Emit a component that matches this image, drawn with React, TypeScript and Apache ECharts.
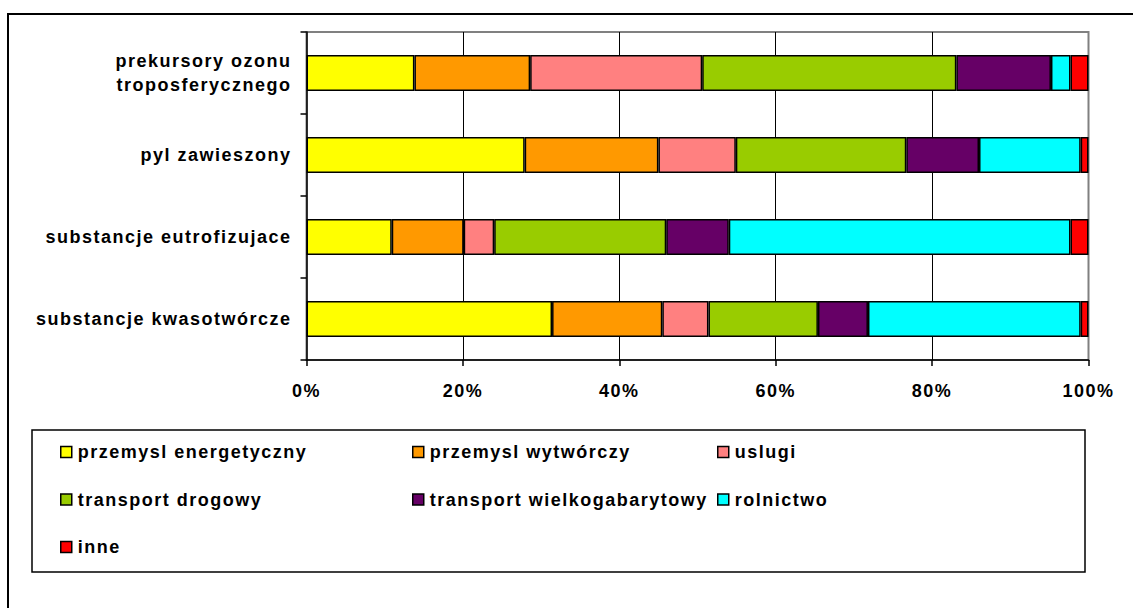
import React, { useEffect, useRef } from "react";
import * as echarts from "echarts";

// Emission categories, listed bottom-to-top as the category axis draws them
const categories = [
  "substancje kwasotwórcze",
  "substancje eutrofizujace",
  "pyl zawieszony",
  "prekursory ozonu\ntroposferycznego",
];

// Share of each source sector (%) per category, same order as categories
const przemyslEnergetyczny = [31.4, 10.9, 27.9, 13.8];
const przemyslWytworczy = [14.1, 9.2, 17.1, 14.8];
const uslugi = [5.9, 3.9, 9.9, 22.0];
const transportDrogowy = [14.0, 22.0, 21.8, 32.5];
const transportWielkogabarytowy = [6.4, 8.0, 9.3, 12.1];
const rolnictwo = [27.2, 43.7, 13.0, 2.5];
const inne = [1.0, 2.3, 1.0, 2.3];

const xTicks = [0, 20, 40, 60, 80, 100];

const seriesDefs = [
  { name: "przemysl energetyczny", data: przemyslEnergetyczny, color: "#FFFF00" },
  { name: "przemysl wytwórczy", data: przemyslWytworczy, color: "#FF9900" },
  { name: "uslugi", data: uslugi, color: "#FF8080" },
  { name: "transport drogowy", data: transportDrogowy, color: "#99CC00" },
  { name: "transport wielkogabarytowy", data: transportWielkogabarytowy, color: "#660066" },
  { name: "rolnictwo", data: rolnictwo, color: "#00FFFF" },
  { name: "inne", data: inne, color: "#FF0000" },
];

const FONT = "Liberation Sans";
const FONT_SIZE = 18;

export default function App() {
  const ref = useRef<HTMLDivElement>(null);

  useEffect(() => {
    if (!ref.current) return;
    const chart = echarts.init(ref.current, null, { renderer: "svg" });

    const legendText = {
      fontFamily: FONT,
      fontWeight: "bold" as const,
      fontSize: FONT_SIZE,
      color: "#000",
      padding: [0, 0, 0, 1],
    };
    const legendCommon = {
      orient: "vertical" as const,
      top: 443,
      itemGap: 29.5,
      itemWidth: 11,
      itemHeight: 11,
      padding: 0,
      icon: "rect",
      selectedMode: false,
      itemStyle: { borderColor: "#000", borderWidth: 1.5 },
      textStyle: legendText,
    };

    chart.setOption({
      animation: false,
      backgroundColor: "#fff",
      textStyle: { fontFamily: FONT, fontWeight: "bold", fontSize: FONT_SIZE },
      grid: {
        left: 306.5,
        right: 44.5,
        top: 32,
        bottom: 248,
        show: true,
        borderColor: "#808080",
        borderWidth: 2,
        backgroundColor: "transparent",
      },
      xAxis: {
        type: "value",
        min: xTicks[0],
        max: xTicks[xTicks.length - 1],
        interval: 20,
        axisLine: { show: true, lineStyle: { color: "#000", width: 1.5 } },
        axisTick: { show: true, length: 6, lineStyle: { color: "#000", width: 1.5 } },
        splitLine: {
          show: true,
          showMinLine: false,
          showMaxLine: false,
          lineStyle: { color: "#000", width: 1 },
        },
        axisLabel: {
          margin: 22,
          formatter: "{value}%",
          fontFamily: FONT,
          fontWeight: "bold",
          fontSize: FONT_SIZE,
          color: "#000",
        },
      },
      yAxis: {
        type: "category",
        data: categories,
        axisLine: { show: true, lineStyle: { color: "#000", width: 1.5 } },
        axisTick: { show: true, length: 6, lineStyle: { color: "#000", width: 1.5 } },
        axisLabel: {
          margin: 15,
          fontFamily: FONT,
          fontWeight: "bold",
          fontSize: FONT_SIZE,
          lineHeight: 24,
          color: "#000",
          align: "right",
        },
      },
      legend: [
        {
          ...legendCommon,
          left: 60,
          data: ["przemysl energetyczny", "transport drogowy", "inne"],
        },
        {
          ...legendCommon,
          left: 412,
          data: ["przemysl wytwórczy", "transport wielkogabarytowy"],
        },
        {
          ...legendCommon,
          left: 717,
          data: ["uslugi", "rolnictwo"],
        },
      ],
      graphic: [
        {
          type: "rect",
          silent: true,
          shape: { x: 8, y: 14, width: 1200, height: 700 },
          style: { fill: "none", stroke: "#000", lineWidth: 2 },
        },
        {
          type: "rect",
          silent: true,
          shape: { x: 32, y: 430, width: 1053, height: 142 },
          style: { fill: "none", stroke: "#000", lineWidth: 1.5 },
        },
      ],
      series: seriesDefs.map((s) => ({
        name: s.name,
        type: "bar",
        stack: "total",
        barWidth: 36,
        data: s.data,
        itemStyle: { color: s.color, borderColor: "#000", borderWidth: 1.5 },
      })),
    });

    return () => chart.dispose();
  }, []);

  return (
    <div
      ref={ref}
      style={{
        position: "fixed",
        left: 0,
        top: 0,
        width: 1133,
        height: 608,
        letterSpacing: "1.5px",
      }}
    />
  );
}
